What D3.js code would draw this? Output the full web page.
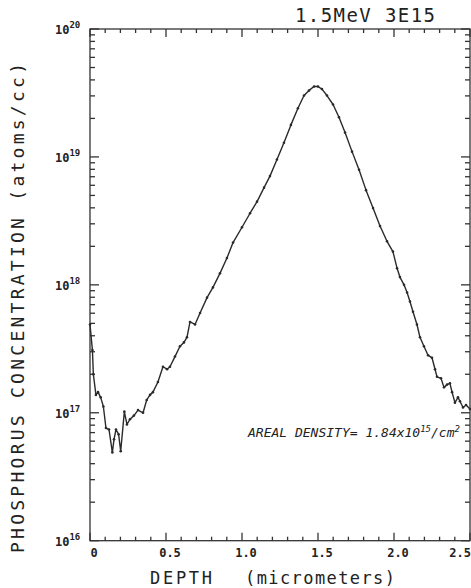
<!DOCTYPE html>
<html>
<head>
<meta charset="utf-8">
<script src="https://cdn.jsdelivr.net/npm/d3@7"></script>
<style>
  body { margin: 0; background: #fff; }
  text { font-family: "DejaVu Sans Mono", monospace; fill: #222; }
</style>
</head>
<body>
<div id="chart"></div>
<script>
var svgWidth = 471;
var svgHeight = 588;

var margin = { top: 29, right: 1, bottom: 47, left: 90 };
var width = 470 - margin.left;
var height = 540.7 - margin.top;

// depth in micrometers
var depth = [0.000, 0.016, 0.022, 0.039, 0.053, 0.070, 0.088, 0.105, 0.125, 0.147,
  0.158, 0.171, 0.188, 0.202, 0.226, 0.243, 0.263, 0.289, 0.316, 0.349,
  0.373, 0.395, 0.414, 0.447, 0.480, 0.507, 0.526, 0.559, 0.592, 0.618,
  0.638, 0.658, 0.691, 0.724, 0.770, 0.809, 0.855, 0.901, 0.941, 1.000,
  1.053, 1.099, 1.145, 1.184, 1.230, 1.276, 1.322, 1.368, 1.408, 1.441,
  1.474, 1.500, 1.526, 1.559, 1.599, 1.638, 1.678, 1.724, 1.770, 1.816,
  1.862, 1.908, 1.954, 1.993, 2.020, 2.039, 2.066, 2.086, 2.105, 2.125,
  2.151, 2.171, 2.197, 2.224, 2.250, 2.270, 2.283, 2.309, 2.329, 2.349,
  2.368, 2.382, 2.401, 2.421, 2.434, 2.454, 2.474, 2.500];

// phosphorus concentration, atoms/cc
var conc = [4.90e17, 3.09e17, 2.00e17, 1.38e17, 1.45e17, 1.32e17, 1.12e17, 7.6e16, 7.4e16, 4.9e16,
  6.2e16, 7.4e16, 6.8e16, 5.0e16, 1.02e17, 8.1e16, 8.9e16, 9.5e16, 1.05e17, 1.00e17,
  1.26e17, 1.38e17, 1.45e17, 1.74e17, 2.29e17, 2.19e17, 2.29e17, 2.75e17, 3.31e17, 3.55e17,
  3.89e17, 5.13e17, 4.90e17, 6.03e17, 7.94e17, 9.55e17, 1.23e18, 1.62e18, 2.14e18, 2.82e18,
  3.63e18, 4.47e18, 5.75e18, 7.08e18, 9.55e18, 1.29e19, 1.78e19, 2.40e19, 3.02e19, 3.31e19,
  3.55e19, 3.55e19, 3.39e19, 3.02e19, 2.57e19, 2.04e19, 1.55e19, 1.10e19, 7.94e18, 5.50e18,
  3.98e18, 2.88e18, 2.19e18, 1.82e18, 1.35e18, 1.15e18, 1.00e18, 8.71e17, 7.41e17, 6.17e17,
  4.90e17, 3.89e17, 3.31e17, 2.82e17, 2.69e17, 2.19e17, 1.91e17, 1.86e17, 1.58e17, 1.66e17,
  1.70e17, 1.45e17, 1.20e17, 1.32e17, 1.23e17, 1.10e17, 1.15e17, 1.07e17];

var xTickLabels = ["0", "0.5", "1.0", "1.5", "2.0", "2.5"];
var xTickValues = [0, 0.5, 1.0, 1.5, 2.0, 2.5];
var yDecades = [16, 17, 18, 19, 20];

var title = "1.5MeV 3E15";
var yLabel = "PHOSPHORUS CONCENTRATION (atoms/cc)";
var xLabelMain = "DEPTH";
var xLabelUnit = "(micrometers)";

var Data = depth.map((d, i) => ({ depth: d, conc: conc[i] }));

var svg = d3.select("#chart")
  .append("svg")
  .attr("width", svgWidth)
  .attr("height", svgHeight);

var chartGroup = svg.append("g")
  .attr("transform", `translate(${margin.left}, ${margin.top})`);

var xLinearScale = d3.scaleLinear().domain([0, 2.5]).range([0, width]);
var yLogScale = d3.scaleLog().domain([1e16, 1e20]).range([height, 0]);

// frame
chartGroup.append("rect")
  .attr("width", width)
  .attr("height", height)
  .attr("fill", "none")
  .attr("stroke", "#333")
  .attr("stroke-width", 1.3);

// x ticks every 0.1, major every 0.5 (bottom and top, inward)
var xMinor = d3.range(0, 26).map(i => i / 10);
xMinor.forEach(function(v, i) {
  var len = (i % 5 === 0) ? 8 : 4;
  var x = xLinearScale(v);
  chartGroup.append("line").attr("x1", x).attr("x2", x)
    .attr("y1", height).attr("y2", height - len)
    .attr("stroke", "#333").attr("stroke-width", 1.3);
  chartGroup.append("line").attr("x1", x).attr("x2", x)
    .attr("y1", 0).attr("y2", len)
    .attr("stroke", "#333").attr("stroke-width", 1.3);
});

// y ticks: 2..9 minor, decades major (left and right, inward)
yDecades.forEach(function(e) {
  for (var m = 1; m <= 9; m++) {
    if (e === 20 && m > 1) break;
    var y = yLogScale(m * Math.pow(10, e));
    var len = (m === 1) ? 9 : 5;
    chartGroup.append("line").attr("x1", 0).attr("x2", len)
      .attr("y1", y).attr("y2", y)
      .attr("stroke", "#333").attr("stroke-width", 1.3);
    chartGroup.append("line").attr("x1", width).attr("x2", width - len)
      .attr("y1", y).attr("y2", y)
      .attr("stroke", "#333").attr("stroke-width", 1.3);
  }
});

// x tick labels
xTickValues.forEach(function(v, i) {
  var last = i === xTickValues.length - 1;
  chartGroup.append("text")
    .attr("x", last ? width + 1 : xLinearScale(v) + 4)
    .attr("y", height + 16)
    .attr("text-anchor", last ? "end" : "middle")
    .attr("font-size", "12px")
    .attr("font-weight", "bold")
    .text(xTickLabels[i]);
});

// y tick labels 10^e
yDecades.forEach(function(e) {
  var t = chartGroup.append("text")
    .attr("x", -35)
    .attr("y", yLogScale(Math.pow(10, e)) + 5)
    .attr("font-size", "12px")
    .attr("font-weight", "bold");
  t.append("tspan").text("10");
  t.append("tspan").attr("dy", -6).attr("font-size", "9px").text(e);
});

// curve
var line = d3.line()
  .x(d => xLinearScale(d.depth))
  .y(d => yLogScale(d.conc));

chartGroup.append("path")
  .datum(Data)
  .attr("fill", "none")
  .attr("stroke", "#2a2a2a")
  .attr("stroke-width", 1.4)
  .attr("stroke-linejoin", "round")
  .attr("d", line);

chartGroup.selectAll("circle")
  .data(Data)
  .enter()
  .append("circle")
  .attr("cx", d => xLinearScale(d.depth))
  .attr("cy", d => yLogScale(d.conc))
  .attr("r", 1.3)
  .attr("fill", "#2a2a2a");

// title
svg.append("text")
  .attr("x", 295)
  .attr("y", 22)
  .attr("font-size", "19px")
  .attr("textLength", 140)
  .attr("lengthAdjust", "spacing")
  .text(title);

// y axis label
svg.append("text")
  .attr("transform", "translate(24, 308) rotate(-90)")
  .attr("text-anchor", "middle")
  .attr("font-size", "18px")
  .attr("textLength", 490)
  .attr("lengthAdjust", "spacing")
  .text(yLabel);

// x axis label
svg.append("text")
  .attr("x", 150)
  .attr("y", 584)
  .attr("font-size", "17px")
  .attr("textLength", 62)
  .attr("lengthAdjust", "spacing")
  .text(xLabelMain);

svg.append("text")
  .attr("x", 245)
  .attr("y", 584)
  .attr("font-size", "17px")
  .attr("textLength", 150)
  .attr("lengthAdjust", "spacing")
  .text(xLabelUnit);

// areal density note
var note = svg.append("text")
  .attr("x", 248)
  .attr("y", 437)
  .attr("font-size", "13px")
  .attr("font-style", "italic");
note.append("tspan").text("AREAL DENSITY= 1.84x10");
note.append("tspan").attr("dy", -5).attr("font-size", "9px").text("15");
note.append("tspan").attr("dy", 5).text("/cm");
note.append("tspan").attr("dy", -5).attr("font-size", "9px").text("2");
</script>
</body>
</html>
